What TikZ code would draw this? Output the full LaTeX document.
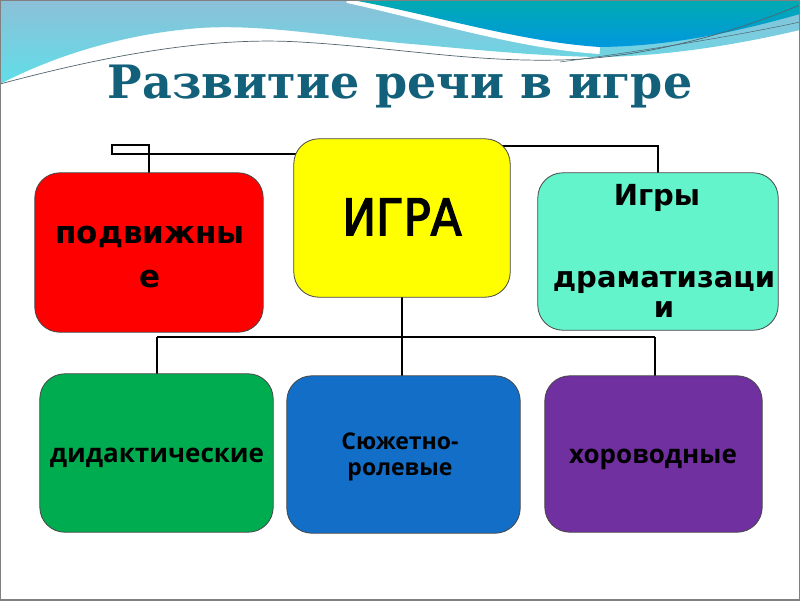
\documentclass[tikz,border=0pt]{standalone}
\usepackage{fontspec}
\setmainfont{DejaVu Sans}
\newfontfamily\titlefont{DejaVu Serif}
\newfontfamily\boxfont{DejaVu Sans}
\newfontfamily\igrafont[FakeBold=3]{DejaVu Sans}
\newfontfamily\osfont{Open Sans}
\usetikzlibrary{calc}
\definecolor{lightA}{RGB}{140,192,216}
\definecolor{lightB}{RGB}{96,222,232}
\definecolor{tealA}{RGB}{0,170,178}
\definecolor{tealB}{RGB}{0,152,222}
\definecolor{titlec}{RGB}{18,96,122}
\definecolor{redc}{RGB}{255,0,0}
\definecolor{yelc}{RGB}{255,255,0}
\definecolor{mintc}{RGB}{100,244,204}
\definecolor{greenc}{RGB}{0,172,80}
\definecolor{bluec}{RGB}{18,110,198}
\definecolor{purpc}{RGB}{112,48,160}
\definecolor{edgec}{RGB}{70,70,70}
\definecolor{wavec}{RGB}{80,100,110}
\tikzset{
  boxn/.style={rectangle, minimum width=1pt, inner sep=0pt, draw=none},
  boxfill/.style={draw=edgec, line width=0.8pt, rounded corners=25pt},
  conn/.style={draw=black, line width=1.7pt},
  lblA/.style={font=\boxfont\bfseries\fontsize{31}{34}\selectfont, anchor=base, inner sep=0pt},
  lblT/.style={font=\boxfont\bfseries\fontsize{29}{32}\selectfont, anchor=base, inner sep=0pt},
  lblB/.style={font=\osfont\bfseries\fontsize{26}{30}\selectfont, anchor=base, inner sep=0pt},
  lblC/.style={font=\osfont\bfseries\fontsize{23}{26}\selectfont, anchor=base, inner sep=0pt},
}
\begin{document}
\begin{tikzpicture}[x=1pt,y=-1pt]
\useasboundingbox (0,0) rectangle (800,600);
\fill[white] (0,0) rectangle (800,600);
% light band
\shade[top color=lightA, bottom color=lightB]
  (0,0) -- (800,0) -- (800,30) .. controls (740,44) and (670,56) .. (600,57)
  .. controls (530,56) and (460,48) .. (400,43)
  .. controls (330,36) and (260,24) .. (200,28)
  .. controls (120,34) and (50,58) .. (0,84) -- cycle;
% white stripe
\draw[white, line width=14pt] (348,-4) .. controls (430,14) and (520,42) .. (600,47);
% teal region
\shade[top color=tealA, bottom color=tealB]
  (352,0) -- (800,0) -- (800,14) .. controls (750,28) and (680,46) .. (600,47)
  .. controls (520,42) and (430,14) .. (352,0) -- cycle;
% thin lines
\draw[wavec, line width=0.7pt] (0,84) .. controls (90,60) and (200,36) .. (300,42)
  .. controls (400,48) and (470,62) .. (560,60) .. controls (650,58) and (740,30) .. (800,5);
\draw[white, line width=0.8pt] (0,86) .. controls (90,62) and (200,39) .. (300,45)
  .. controls (400,51) and (470,64) .. (560,62);
\draw[wavec, line width=0.5pt] (560,62) .. controls (650,50) and (740,35) .. (800,22);
% frame
\draw[gray, line width=1.5pt] (0,0) rectangle (800,600);
% title
\node[font=\titlefont\bfseries\fontsize{46}{50}\selectfont, text=titlec, anchor=base, inner sep=0pt] (title) at (400,98) {Развитие речи в игре};
% helper coordinates
\coordinate (k1) at (112,154);
\coordinate (k2) at (149,145);
\coordinate (k3) at (658,146);
\coordinate (hl) at (157,337);
\coordinate (hr) at (655,337);
% box nodes (named)
\node[boxn, minimum width=216pt, minimum height=158pt] (igra) at (402,218) {};
\node[boxn, minimum width=228pt, minimum height=159pt] (red) at (149,252.5) {};
\node[boxn, minimum width=240pt, minimum height=157pt] (teal) at (658,251.5) {};
\node[boxn, minimum width=233pt, minimum height=158pt] (green) at (156.5,453) {};
\node[boxn, minimum width=233pt, minimum height=157pt] (blue) at (403.5,454.5) {};
\node[boxn, minimum width=217pt, minimum height=156pt] (purple) at (653.5,454) {};
% connectors
\draw[conn] (igra.center |- k1) -- (k1) |- (k2) -- (k2 |- red.center);
\draw[conn] (igra.center |- k3) -- (k3) -- (k3 |- teal.center);
\draw[conn] (igra.center) -- (igra.center |- blue.center);
\draw[conn] (hl) -- (hr);
\draw[conn] (hl) -- (hl |- green.center);
\draw[conn] (hr) -- (hr |- purple.center);
% visible boxes on top
\fill[boxfill, fill=yelc] (igra.north west) rectangle (igra.south east);
\fill[boxfill, fill=redc] (red.north west) rectangle (red.south east);
\fill[boxfill, fill=mintc] (teal.north west) rectangle (teal.south east);
\fill[boxfill, fill=greenc] (green.north west) rectangle (green.south east);
\fill[boxfill, fill=bluec] (blue.north west) rectangle (blue.south east);
\fill[boxfill, fill=purpc] (purple.north west) rectangle (purple.south east);
% texts
\node[font=\igrafont\fontsize{50}{54}\selectfont, anchor=base, inner sep=0pt] (igraT) at (402,235) {\scalebox{0.9}[1]{ИГРА}};
\node[lblA] (redT1) at (150,243) {подвижны};
\node[lblA] (redT2) at (150,287) {е};
\node[lblT] (tealT1) at (657,205) {Игры};
\node[lblT] (tealT2) at (664,287) {драматизаци};
\node[lblT] (tealT3) at (664,317) {и};
\node[lblB] (greenT) at (157,462) {дидактические};
\node[lblC] (blueT1) at (400,449) {Сюжетно-};
\node[lblC] (blueT2) at (400,475) {ролевые};
\node[lblB] (purpT) at (653,463) {хороводные};
\end{tikzpicture}
\end{document}
